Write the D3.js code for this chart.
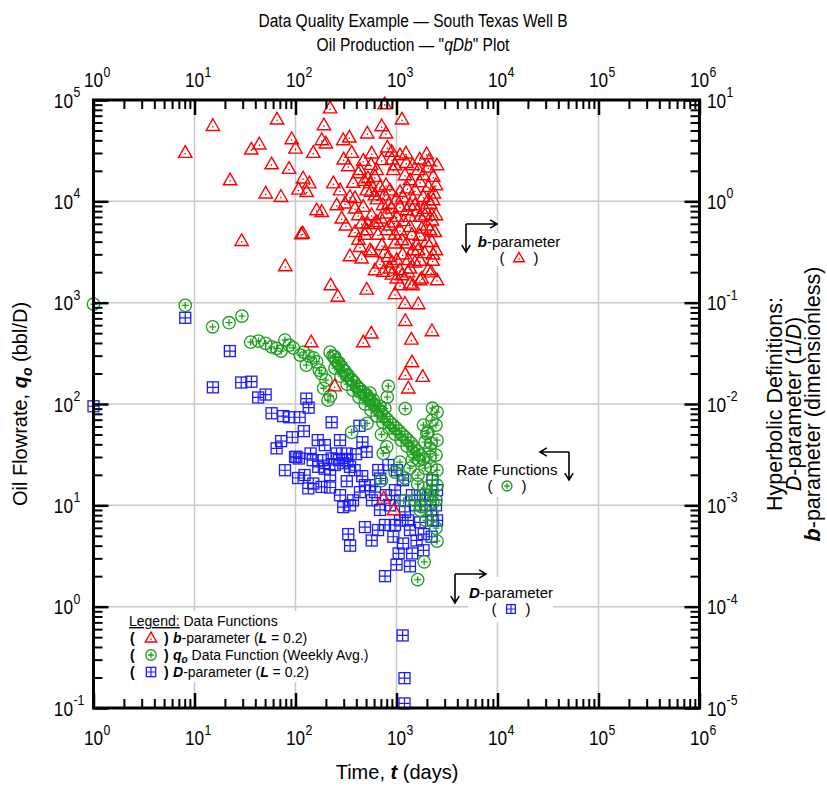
<!DOCTYPE html>
<html>
<head>
<meta charset="utf-8">
<script src="https://cdn.jsdelivr.net/npm/d3@7"></script>
<style>
  body { margin: 0; background: #fff; }
  svg { display: block; }
</style>
</head>
<body>
<svg id="chart" width="827" height="789"></svg>
<script>
// ---- axis decades ----
const timeDecades  = [1, 10, 100, 1e3, 1e4, 1e5, 1e6];
const timeExps     = ["0", "1", "2", "3", "4", "5", "6"];
const rateDecades  = [0.1, 1, 10, 100, 1e3, 1e4, 1e5];
const rateExps     = ["-1", "0", "1", "2", "3", "4", "5"];
const paramDecades = [1e-5, 1e-4, 1e-3, 1e-2, 1e-1, 1, 10];
const paramExps    = ["-5", "-4", "-3", "-2", "-1", "0", "1"];

// ---- b-parameter, [time (days), b (dimensionless)] ----
const bParam = [
  [220,8.3],[191,5.66],[182,4.03],[200,3.74],[150,3.02],[119,1.69],[137,1.51],[129,1.24],[297,4.03],[341,4.28],
  [360,3.02],[333,2.23],[237,1.51],[373,1.53],[469,2.52],[514,4.69],[713,5.54],[787,4.69],[811,3.41],[896,3.09],
  [1083,2.86],[1242,2.98],[1990,2.93],[1446,2.28],[568,2.98],[713,2.56],[930,2.04],[1644,2.04],[2065,2.17],[2313,1.75],
  [1842,1.82],[2065,1.39],[1361,1.62],[1083,1.24],[862,1.29],[687,1.39],[547,1.51],[612,1.75],[637,2.04],[507,1.29],
  [276,1.29],[346,1.11],[309,0.955],[256,0.919],[162,0.82],[182,0.789],[388,0.853],[469,0.885],[568,0.733],[419,0.733],
  [287,0.679],[452,0.607],[388,0.5],[507,0.521],[637,0.63],[800,0.762],[896,0.853],[1083,0.885],[1262,0.82],[1524,0.919],
  [1842,1.11],[2313,1.03],[2232,0.733],[1710,0.705],[1361,0.705],[1005,0.705],[800,0.521],[1083,0.521],[1361,0.561],[1778,0.541],
  [2148,0.521],[966,0.385],[1262,0.385],[1585,0.371],[1990,0.399],[2232,0.399],[346,0.288],[452,0.274],[568,0.318],[435,0.356],
  [687,0.244],[830,0.284],[1005,0.264],[1309,0.264],[740,0.202],[862,0.218],[1083,0.21],[1361,0.218],[1710,0.26],[2280,0.26],
  [1778,0.174],[1361,0.155],[1005,0.174],[507,0.135],[262,0.115],[223,0.149],[966,0.122],[1213,0.098],[1644,0.097],[118,0.483],
  [8.1,3.02],[15.2,5.57],[22.5,1.62],[29.3,0.408],[36.5,3.26],[43.8,3.66],[58,2.33],[50.7,1.2],[71.8,1.11],[65.6,6.45],
  [79.2,0.23],[86.3,2.1],[91.7,4.12],[100,3.33],[114,0.475],[107,1.31],[764,9.12],[1133,6.45],
  [1446,0.149],[1710,0.167],[1222,0.0662],[1403,0.0434],[563,0.0498],[469,0.0408],[143,0.0408],[1422,0.0259],[1222,0.0196],[1817,0.0186],
  [1309,0.0143],[244,0.015],[747,0.00117],[945,0.000897],[2245,0.0525],
  [2518,2.28],[2460,0.733],[2460,0.33],[2460,1.45],[2518,0.167],
  [435,2.04],[522,1.70],[612,1.15],[736,0.92],[862,0.58],[966,0.47],[1133,0.415],[1422,0.47],[1633,0.33],[1915,0.73],
  [2050,1.03],[1524,1.29],[1213,1.82],[966,2.28],[787,1.45],[656,0.47],[547,0.33],[718,0.37],[902,0.25],[1133,0.187],
  [1524,0.25],[2050,0.21],[388,1.08],[316,0.58],[1361,0.92],[1710,1.55],[2245,0.65],[1083,0.149],[612,0.21],[488,0.47],
  [300,2.6],[420,1.9],[480,1.6],[560,1.25],[640,1.05],[760,1.15],[840,0.95],[1000,1.05],[1150,1.1],[1280,1.35],
  [1450,1.05],[1600,0.8],[1900,0.85],[2150,0.95],[2350,1.2],[600,0.6],[700,0.68],[950,0.62],[1180,0.64],[1700,0.46],
  [2000,0.58],[2400,0.5],[760,0.31],[1150,0.3],[1450,0.33],[1900,0.31],[2300,0.3],[900,0.19],[1300,0.2],[2200,0.2],
  [420,0.42],[520,0.6],[2100,2.5],[1700,2.6],[1250,2.4],[900,2.6],[560,2.3]
];

// ---- weekly-average oil rate, [time (days), qo (bbl/D)] ----
const rateData = [
  [1,969],[8.1,940],[15.1,578],[22,634],[29.5,738],[36,408],[43,418],[50.6,397],[58,367],[65,354],
  [72,333],[78.6,428],[86.6,381],[95,358],[111,304],[121,325],[136,297],[128,242],[150,286],[162,261],
  [172,216],[180,200],[200,172],[190,143],[222,120],[210,109],
  [220,325],[235,297],[252,271],[270,254],[289,231],[309,211],[331,193],[355,176],[379,164],[406,150],
  [435,140],[466,131],[499,120],[535,112],[572,104.5],[612,97.5],[656,89],[703,83],[752,76],[805,71],
  [862,66],[923,62],[988,57.8],[1059,54],[1133,50.4],[1214,47.1],[1300,44],[1393,41.1],[1490,37.6],[1596,34.3],
  [1710,31.3],[1830,28.6],
  [246,226],[282,188],[324,157],[371,137],[425,117],[488,99.8],[560,87],[641,76],[735,66],[843,57.8],
  [967,50.4],[1109,44],[1271,38.4],[1456,33.5],[1671,27.9],[1915,23.3],
  [244,293],[264,251],[296,216],[320,193],[360,172],[404,148],[436,132],[507,123],[547,128],[590,109],
  [685,95],[765,90.5],[830,150],[810,117],[1220,90],[360,52.5],[510,64.5],[710,50],[800,37.8],[740,32.5],
  [1180,11.1],[1770,9.7],[1620,1.85],[1880,2.77],[710,17.5],
  [1083,26.7],[967,21.3],[1214,18.6],[1361,23.3],[1633,19.9],[1871,14.8],[2050,12.6],[1710,8.97],[1524,11.2],[1960,7.1],
  [2460,5.96],[2518,4.44],[2270,8.0],[2460,11.2],[2518,15.8],[2518,22.2],[2460,31.3],[2518,44],[2460,62],[2518,83],
  [2245,69],[2050,52.8],[2148,36.7],[1915,42],[2270,91],
  [1850,62],[2000,51],[2200,41],[2150,30],[2200,24],[2260,17.7],[2260,14],[2290,10.8],[1430,28],[1620,16.2]
];

// ---- D-parameter, [time (days), D (1/D)] ----
const dParam = [
  [1,0.0095],[8.1,0.0709],[22.4,0.0333],[15.2,0.0146],[29,0.0163],[36.6,0.0166],[42.7,0.0116],[50.6,0.0124],[58,0.0081],[75.5,0.0076],
  [86.5,0.0074],[110,0.0074],[128,0.0113],[135,0.0092],[121,0.0054],[93,0.0047],[72,0.0043],[65,0.00365],[228,0.0066],[430,0.0061],
  [460,0.0042],
  [102,0.00301],[141,0.00325],[186,0.00279],[255,0.00325],[321,0.00325],[506,0.00337],[398,0.0032],[327,0.00279],[270,0.00279],
  [228,0.0029],[148,0.00279],[108,0.0029],[99,0.003],
  [168,0.0024],[195,0.0023],[245,0.0025],[297,0.0026],[347,0.0024],
  [150,0.00164],[181,0.00152],[220,0.0015],[134,0.00147],[322,0.00173],[487,0.00158],
  [660,0.00223],[690,0.00184],[347,0.001],[297,0.00096],[487,0.00061],[568,0.00045],[333,0.00052],[347,0.0004],
  [1050,0.000335],[1430,0.000335],[1850,0.00036],[770,0.0002],[1000,0.00026],[1360,0.00025],
  [930,0.00049],[1160,0.00042],[1580,0.00045],[2230,0.00049],[1860,0.00052],[2300,0.00071],[2200,0.00089],
  [1150,0.000052],[1200,0.0000197],[1200,0.0000111],
  [385,0.00222],[458,0.00194],[548,0.00158],[612,0.00135],[787,0.00126],[862,0.001],[966,0.00141],[1083,0.00112],[1213,0.00086],[1300,0.00071],
  [1422,0.00126],[1524,0.001],[1710,0.00126],[1915,0.001],[2148,0.00126],[2460,0.001],[2518,0.00071],[2518,0.00141],[2270,0.00177],[1083,0.00071],
  [966,0.00064],[687,0.0009],[572,0.00112],[770,0.00064],[656,0.00057],[1361,0.00057],[1710,0.00068],[435,0.00135],[371,0.00112],[276,0.00126],
  [220,0.00199],[123,0.00199],[106,0.00186],[78.7,0.00222],[166,0.0044],[195,0.00393],[276,0.0044],[1010,0.00222],[1160,0.00177],[830,0.0025]
];

// ---- layout ----
const W = 827, H = 789;
const P = { left: 93.5, right: 699.5, top: 100, bottom: 708 };
const RED = "#ff0000", GREEN = "#1f9e1f", BLUE = "#1c1cff";
const SANS = "'Liberation Sans', Arial, sans-serif";
const NARROW_X = 0.82;   // horizontal squeeze giving a condensed face

const x = d3.scaleLog().domain([1, 1e6]).range([P.left, P.right]);
const yRate = d3.scaleLog().domain([0.1, 1e5]).range([P.bottom, P.top]);
const yParam = d3.scaleLog().domain([1e-5, 10]).range([P.bottom, P.top]);

const minorsOf = decades => {
  const out = [];
  decades.slice(0, -1).forEach(d => { for (let m = 2; m <= 9; m++) out.push(d * m); });
  return out;
};

const svg = d3.select("#chart").attr("font-family", SANS);
svg.append("rect").attr("width", W).attr("height", H).attr("fill", "#fff");

// ---- grid ----
const grid = svg.append("g").attr("stroke", "#c8c8c8").attr("stroke-width", 1.5);
grid.selectAll(".gv").data(timeDecades.slice(1, -1)).join("line").attr("class", "gv")
  .attr("x1", d => x(d)).attr("x2", d => x(d)).attr("y1", P.top).attr("y2", P.bottom);
grid.selectAll(".gh").data(rateDecades.slice(1, -1)).join("line").attr("class", "gh")
  .attr("y1", d => yRate(d)).attr("y2", d => yRate(d)).attr("x1", P.left).attr("x2", P.right);

// ---- white boxes behind legend and annotations ----
const boxes = [[115, 611, 272, 71], [476, 233, 87, 33], [452, 460, 110, 37], [468, 577, 85, 45]];
svg.append("g").selectAll("rect").data(boxes).join("rect")
  .attr("x", d => d[0]).attr("y", d => d[1]).attr("width", d => d[2]).attr("height", d => d[3])
  .attr("fill", "#fff");

// ---- marker shapes ----
function triangle(g, s = 1) {
  g.append("path").attr("d", `M0,${-7 * s}L${6.7 * s},${4.7 * s}L${-6.7 * s},${4.7 * s}Z`)
    .attr("fill", "none").attr("stroke", RED).attr("stroke-width", 1.4);
  g.append("circle").attr("cy", 1).attr("r", 0.75).attr("fill", "#700");
}
function circlePlus(g, s = 1) {
  g.append("circle").attr("r", 6.2 * s).attr("fill", "none").attr("stroke", GREEN).attr("stroke-width", 1.35);
  g.append("path").attr("d", `M${-3.4 * s},0H${3.4 * s}M0,${-3.4 * s}V${3.4 * s}`)
    .attr("stroke", GREEN).attr("stroke-width", 1.3);
}
function squarePlus(g, s = 1) {
  const h = 5.5 * s;
  g.append("rect").attr("x", -h).attr("y", -h).attr("width", 2 * h).attr("height", 2 * h)
    .attr("fill", "none").attr("stroke", BLUE).attr("stroke-width", 1.3);
  g.append("path").attr("d", `M${-h},0H${h}M0,${-h}V${h}`).attr("stroke", BLUE).attr("stroke-width", 1.2);
}

// ---- data marks ----
const marks = svg.append("g");
marks.append("g").selectAll("g").data(dParam).join("g")
  .attr("transform", d => `translate(${x(d[0])},${yParam(d[1])})`).each(function () { squarePlus(d3.select(this)); });
marks.append("g").selectAll("g").data(rateData).join("g")
  .attr("transform", d => `translate(${x(d[0])},${yRate(d[1])})`).each(function () { circlePlus(d3.select(this)); });
marks.append("g").selectAll("g").data(bParam).join("g")
  .attr("transform", d => `translate(${x(d[0])},${yParam(d[1])})`).each(function () { triangle(d3.select(this)); });

// ---- ticks (inward) on all four sides ----
function tickSet(axis, tx, ty, values, size, width) {
  const g = svg.append("g").attr("transform", `translate(${tx},${ty})`)
    .call(axis.tickValues(values).tickSize(-size).tickFormat(""));
  g.select(".domain").remove();
  g.selectAll(".tick line").attr("stroke", "#000").attr("stroke-width", width);
}
tickSet(d3.axisBottom(x), 0, P.bottom, minorsOf(timeDecades), 9, 2);
tickSet(d3.axisBottom(x), 0, P.bottom, timeDecades, 15, 2.5);
tickSet(d3.axisTop(x), 0, P.top, minorsOf(timeDecades), 9, 2);
tickSet(d3.axisTop(x), 0, P.top, timeDecades, 15, 2.5);
tickSet(d3.axisLeft(yRate), P.left, 0, minorsOf(rateDecades), 9, 2);
tickSet(d3.axisLeft(yRate), P.left, 0, rateDecades, 15, 2.5);
tickSet(d3.axisRight(yParam), P.right, 0, minorsOf(paramDecades), 9, 2);
tickSet(d3.axisRight(yParam), P.right, 0, paramDecades, 15, 2.5);

// ---- frame ----
svg.append("rect").attr("x", P.left).attr("y", P.top)
  .attr("width", P.right - P.left).attr("height", P.bottom - P.top)
  .attr("fill", "none").attr("stroke", "#000").attr("stroke-width", 3);

// condensed text group anchored at (px, py)
function narrow(parent, px, py, rotate = 0) {
  return parent.append("g")
    .attr("transform", `translate(${px},${py})${rotate ? ` rotate(${rotate})` : ""} scale(${NARROW_X},1)`);
}

// ---- power-of-ten tick labels ----
const lab = svg.append("g").attr("fill", "#000");
const BASE_FS = 21, SUP_FS = 15, BASE_W = 1.112 * 21;
function powLabel(px, py, exp, mode) {
  const g = narrow(lab, px, py);
  const base = g.append("text").attr("font-size", BASE_FS).text("10");
  const sup = g.append("text").attr("font-size", SUP_FS).attr("y", -10.5).text(exp);
  if (mode === "center") {
    base.attr("text-anchor", "middle");
    sup.attr("x", BASE_W / 2 + 0.5);
  } else if (mode === "end") {
    base.attr("text-anchor", "end");
    sup.attr("x", 0.5);
  } else {
    sup.attr("x", BASE_W + 0.5);
  }
}
timeDecades.forEach((d, i) => { powLabel(x(d), 87, timeExps[i], "center"); powLabel(x(d), 745, timeExps[i], "center"); });
rateDecades.forEach((d, i) => powLabel(73, yRate(d) + 7.5, rateExps[i], "end"));
paramDecades.forEach((d, i) => powLabel(707, yParam(d) + 7.5, paramExps[i], "start"));

// ---- titles ----
narrow(svg, 413, 27).append("text").attr("text-anchor", "middle").attr("font-size", 19)
  .text("Data Quality Example \u2014 South Texas Well B");
const t2 = narrow(svg, 413, 51).append("text").attr("text-anchor", "middle").attr("font-size", 19);
t2.append("tspan").text("Oil Production \u2014 \"");
t2.append("tspan").attr("font-style", "italic").text("qDb");
t2.append("tspan").text("\" Plot");

// ---- axis titles ----
const xt = svg.append("text").attr("x", 397).attr("y", 779).attr("text-anchor", "middle").attr("font-size", 20);
xt.append("tspan").text("Time, ");
xt.append("tspan").attr("font-style", "italic").attr("font-weight", "bold").text("t");
xt.append("tspan").text(" (days)");

const yt = svg.append("text").attr("transform", "translate(27,404) rotate(-90)").attr("text-anchor", "middle")
  .attr("font-size", 20);
yt.append("tspan").text("Oil Flowrate, ");
yt.append("tspan").attr("font-style", "italic").attr("font-weight", "bold").text("q");
yt.append("tspan").attr("font-style", "italic").attr("font-weight", "bold").attr("font-size", 14).attr("dy", 5).text("o");
yt.append("tspan").attr("dy", -5).text(" (bbl/D)");

const rt = svg.append("g").attr("transform", "translate(782,404) rotate(-90)")
  .attr("font-size", 21.5).attr("text-anchor", "middle");
rt.append("text").attr("y", 0).text("Hyperbolic Definitions:");
const r2 = rt.append("text").attr("y", 19);
r2.append("tspan").attr("font-style", "italic").text("D");
r2.append("tspan").text("-parameter (1/");
r2.append("tspan").attr("font-style", "italic").text("D");
r2.append("tspan").text(")");
const r3 = rt.append("text").attr("y", 38);
r3.append("tspan").attr("font-style", "italic").attr("font-weight", "bold").text("b");
r3.append("tspan").text("-parameter (dimensionless)");

// ---- legend ----
const leg = svg.append("g").attr("font-size", 14).attr("fill", "#000");
const lh = leg.append("text").attr("x", 129).attr("y", 626);
lh.append("tspan").attr("text-decoration", "underline").text("Legend:");
lh.append("tspan").text(" Data Functions");
const legendRows = [
  { y: 643, mark: triangle, parts: [["b", true], ["-parameter (", false], ["L", true], [" = 0.2)", false]] },
  { y: 660, mark: circlePlus, parts: [["q", true], ["o", true, "sub"], [" Data Function (Weekly Avg.)", false, "up"]] },
  { y: 677, mark: squarePlus, parts: [["D", true], ["-parameter (", false], ["L", true], [" = 0.2)", false]] }
];
legendRows.forEach(r => {
  leg.append("text").attr("x", 130).attr("y", r.y).attr("font-weight", "bold").text("(");
  leg.append("text").attr("x", 164).attr("y", r.y).attr("font-weight", "bold").text(")");
  r.mark(leg.append("g").attr("transform", `translate(151,${r.y - 5})`), 0.85);
  const t = leg.append("text").attr("x", 173).attr("y", r.y);
  r.parts.forEach(p => {
    const s = t.append("tspan").text(p[0]);
    if (p[1]) s.attr("font-style", "italic").attr("font-weight", "bold");
    if (p[2] === "sub") s.attr("font-size", 10).attr("dy", 3);
    if (p[2] === "up") s.attr("dy", -3);
  });
});

// ---- annotations with axis-pointing arrows ----
const ann = svg.append("g").attr("font-size", 15).attr("fill", "#000");
function arrow(x1, y1, x2, y2) {
  const a = Math.atan2(y2 - y1, x2 - x1), L = 8, s = 0.55;
  ann.append("path")
    .attr("d", `M${x1},${y1}L${x2},${y2}M${x2 - L * Math.cos(a - s)},${y2 - L * Math.sin(a - s)}L${x2},${y2}L${x2 - L * Math.cos(a + s)},${y2 - L * Math.sin(a + s)}`)
    .attr("fill", "none").attr("stroke", "#000").attr("stroke-width", 1.6);
}
function annotation(cx, y, parts, mark) {
  const t = ann.append("text").attr("x", cx).attr("y", y).attr("text-anchor", "middle");
  parts.forEach(p => { const s = t.append("tspan").text(p[0]); if (p[1]) s.attr("font-style", "italic").attr("font-weight", "bold"); });
  ann.append("text").attr("x", cx - 17).attr("y", y + 16).attr("text-anchor", "middle").text("(");
  ann.append("text").attr("x", cx + 17).attr("y", y + 16).attr("text-anchor", "middle").text(")");
  mark(ann.append("g").attr("transform", `translate(${cx},${y + 11})`), 0.8);
}
annotation(519, 247, [["b", true], ["-parameter", false]], triangle);
arrow(466, 224, 497, 224); arrow(466, 224, 466, 252);
annotation(507, 475, [["Rate Functions", false]], circlePlus);
arrow(569, 452, 540, 452); arrow(569, 452, 569, 480);
annotation(511, 598, [["D", true], ["-parameter", false]], squarePlus);
arrow(455, 574, 486, 574); arrow(455, 574, 455, 603);
</script>
</body>
</html>
